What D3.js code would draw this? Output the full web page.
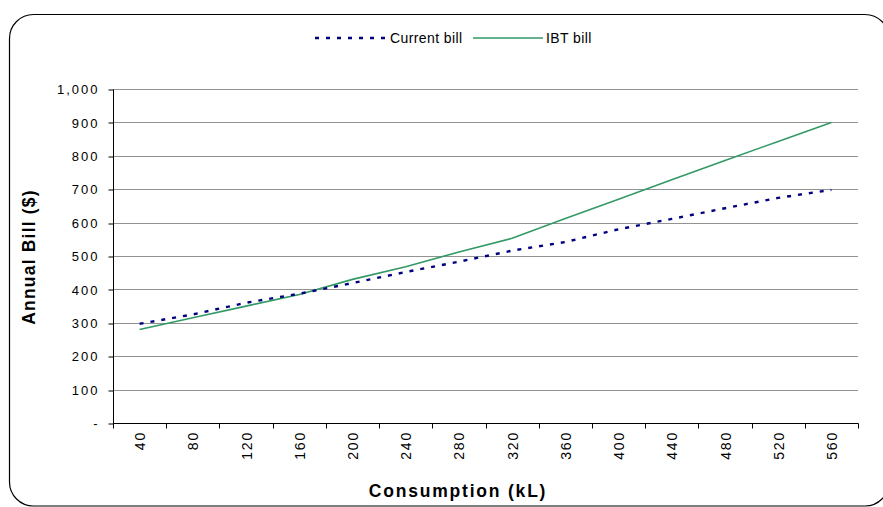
<!DOCTYPE html>
<html>
<head>
<meta charset="utf-8">
<script src="https://cdn.jsdelivr.net/npm/d3@7/dist/d3.min.js"></script>
<style>
  html, body { margin: 0; padding: 0; background: #fff; }
  svg { display: block; font-family: "Liberation Sans", Arial, sans-serif; }
</style>
</head>
<body>
<svg id="chart" width="883" height="507"></svg>
<script>
// Annual bill under current tariff vs. inclining block tariff (IBT)
const consumption = [40, 80, 120, 160, 200, 240, 280, 320, 360, 400, 440, 480, 520, 560];
const currentBill = [297, 325, 360, 387, 419, 452, 483, 516, 542, 580, 611, 643, 674, 698];
const ibtBill     = [280, 315, 350, 385, 430, 468, 512, 553, 612, 670, 728, 786, 843, 900];
const yTicks = [0, 100, 200, 300, 400, 500, 600, 700, 800, 900, 1000];
const seriesNames = ["Current bill", "IBT bill"];

const svg = d3.select("#chart");
const plot = { left: 113, right: 858, top: 89, bottom: 423 };

// outer rounded frame
svg.append("rect")
  .attr("x", 9.5).attr("y", 14.5)
  .attr("width", 879.5).attr("height", 491.5)
  .attr("rx", 24).attr("ry", 24)
  .attr("fill", "#fff").attr("stroke", "#000").attr("stroke-width", 1.2);

const x = d3.scaleBand().domain(consumption).range([plot.left, plot.right]).padding(0);
const xc = d => x(d) + x.bandwidth() / 2;
const y = d3.scaleLinear().domain([0, 1000]).range([plot.bottom, plot.top]);

// horizontal gridlines
svg.append("g").selectAll("line")
  .data(yTicks.filter(t => t > 0))
  .join("line")
  .attr("x1", plot.left).attr("x2", plot.right)
  .attr("y1", d => Math.round(y(d)) + 0.5).attr("y2", d => Math.round(y(d)) + 0.5)
  .attr("stroke", "#939393").attr("stroke-width", 1);

// y axis
const yAxis = d3.axisLeft(y)
  .tickValues(yTicks)
  .tickSize(5)
  .tickPadding(9)
  .tickFormat(d => d === 0 ? "-" : d3.format(",")(d));
const gy = svg.append("g").attr("transform", `translate(${plot.left + 0.5},0.5)`).call(yAxis);
gy.select(".domain").attr("stroke", "#000").attr("d", `M0,${plot.top}V${plot.bottom + 4}`);
gy.selectAll(".tick line").attr("stroke", "#000")
  .attr("transform", d => `translate(0,${Math.round(y(d)) - y(d)})`);
gy.selectAll(".tick text")
  .attr("font-size", 13).attr("fill", "#000")
  .attr("letter-spacing", "2px")
  .attr("font-family", "'Liberation Sans', Arial, sans-serif");

// x axis line with boundary ticks
const gx = svg.append("g").attr("transform", "translate(0.5,0.5)");
gx.append("line")
  .attr("x1", plot.left).attr("x2", plot.right)
  .attr("y1", plot.bottom).attr("y2", plot.bottom)
  .attr("stroke", "#000");
const boundaries = consumption.map(c => x(c)).concat([x.range()[1]]);
gx.selectAll("line.bt").data(boundaries).join("line")
  .attr("class", "bt")
  .attr("x1", d => Math.round(d)).attr("x2", d => Math.round(d))
  .attr("y1", plot.bottom).attr("y2", plot.bottom + 5)
  .attr("stroke", "#000");

// x tick labels (rotated), placed through an axis on band centres
const xAxis = d3.axisBottom(d3.scalePoint().domain(consumption).range([xc(consumption[0]), xc(consumption[consumption.length - 1])]))
  .tickSize(0).tickPadding(0);
const gxl = svg.append("g").attr("transform", `translate(0,${plot.bottom})`).call(xAxis);
gxl.select(".domain").remove();
gxl.selectAll(".tick text")
  .attr("font-size", 14).attr("fill", "#000")
  .attr("letter-spacing", "1.8px")
  .attr("font-family", "'Liberation Sans', Arial, sans-serif")
  .attr("text-anchor", "end")
  .attr("transform", "rotate(-90)")
  .attr("x", -8).attr("y", 0).attr("dy", "0.36em");

// series lines
const line = d3.line().x((d, i) => xc(consumption[i])).y(d => y(d));
svg.append("path").datum(ibtBill)
  .attr("d", line).attr("fill", "none")
  .attr("stroke", "#339966").attr("stroke-width", 1.6);
svg.append("path").datum(currentBill)
  .attr("d", line).attr("fill", "none")
  .attr("stroke", "#000080").attr("stroke-width", 2.4)
  .attr("stroke-dasharray", "4,7");

// axis titles
svg.append("text")
  .attr("x", 458).attr("y", 497)
  .attr("text-anchor", "middle")
  .attr("font-size", 17.5).attr("font-weight", "bold")
  .attr("letter-spacing", "1.8px")
  .text("Consumption (kL)");
svg.append("text")
  .attr("transform", "translate(35,257) rotate(-90)")
  .attr("text-anchor", "middle")
  .attr("font-size", 17.5).attr("font-weight", "bold")
  .attr("letter-spacing", "1.2px")
  .text("Annual Bill ($)");

// legend
const legend = svg.append("g").attr("font-size", 14);
const legendItems = [
  { name: seriesNames[0], x1: 315, x2: 387, stroke: "#000080", width: 2.4, dash: "4,7" },
  { name: seriesNames[1], x1: 473, x2: 543, stroke: "#339966", width: 1.6, dash: null }
];
legendItems.forEach(it => {
  legend.append("line")
    .attr("x1", it.x1).attr("x2", it.x2).attr("y1", 38).attr("y2", 38)
    .attr("stroke", it.stroke).attr("stroke-width", it.width)
    .attr("stroke-dasharray", it.dash);
  legend.append("text")
    .attr("x", it.x2 + 3).attr("y", 38).attr("dy", "0.36em")
    .attr("letter-spacing", "0.4px")
    .text(it.name);
});
</script>
</body>
</html>
